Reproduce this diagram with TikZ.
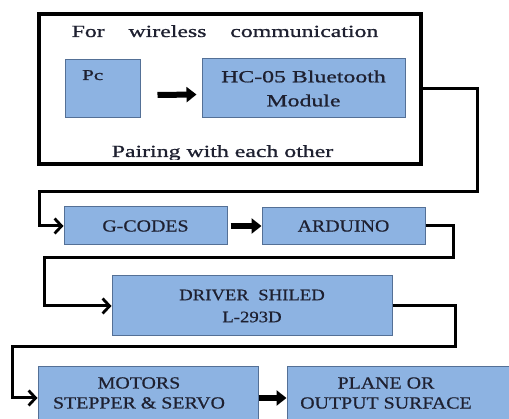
\documentclass[tikz,border=0pt]{standalone}
\usepackage{fontspec}
\setmainfont{Liberation Serif}
\newfontfamily\widefont{Liberation Serif}[FakeStretch=1.4, FakeBold=0.9]
\newfontfamily\blockfont{Liberation Serif}[FakeStretch=1.17, FakeBold=0.6]
\usetikzlibrary{arrows.meta, calc}
\definecolor{blockfill}{RGB}{141,179,226}
\definecolor{blockline}{RGB}{84,112,150}
\definecolor{blocktext}{RGB}{30,32,48}
\tikzset{
    my-block/.style={
        draw=blockline, fill=blockfill, line width=1pt, inner sep=0pt,
        text=blocktext, align=center, font=\blockfont\fontsize{17}{20}\selectfont
    },
    my-caption/.style={
        inner sep=0pt, text=blocktext, align=center, font=\widefont\fontsize{17}{24}\selectfont
    },
    my-label/.style={
        inner sep=0pt, text=blocktext, align=center, font=\blockfont\fontsize{17}{20}\selectfont
    },
    my-frame/.style={
        draw=black, line width=4pt, inner sep=0pt
    },
    my-wire/.style={
        draw=black, line width=3pt, line join=miter,
        -{Straight Barb[length=7pt, width=15pt, line width=2.8pt]}
    },
    my-arrow/.style={
        draw=black, line width=6pt, -{Triangle[length=10pt, width=15pt]}
    },
}

\begin{document}
\begin{tikzpicture}[x=1pt, y=-1pt]
        \useasboundingbox (0,0) rectangle (509,419);

        % WIRELESS FRAME
        \node[my-frame, minimum width=381.5, minimum height=150] (FRAME) at (229.75, 89) {};
        \node[my-caption, anchor=base] (WIRELESS) at (225, 37) {For~~~~wireless~~~~communication};

        % PC AND BLUETOOTH MODULE
        \node[my-block, minimum width=75, minimum height=58] (PC) at (102.5, 89) {};
        \node[my-caption, anchor=base west, font=\widefont\fontsize{15}{20}\selectfont] (PCTEXT) at (82, 80) {Pc};
        \node[my-block, my-caption, draw=blockline, fill=blockfill, line width=1pt,
              minimum width=203, minimum height=59] (HC) at (303.5, 88.5) {HC-05 Bluetooth\\Module};
        \draw[my-arrow] ($(PC.east) + (17, 6)$) -- ($(HC.west) + (-5, 6)$);

        % PAIRING TEXT, CUT BY THE FRAME
        \begin{scope}
            \clip (FRAME.north west) rectangle ($(FRAME.south east) + (0, -6)$);
            \node[my-caption, anchor=base] (PAIRING) at (222.5, 157) {Pairing with each other};
        \end{scope}

        % G-CODES AND ARDUINO
        \node[my-block, minimum width=163, minimum height=38] (GCODES)  at (145.5, 226) {G-CODES};
        \node[my-block, minimum width=163, minimum height=37] (ARDUINO) at (343.5, 226) {ARDUINO};
        \draw[my-arrow, shorten <=3pt] (GCODES) -- (ARDUINO);

        % DRIVER SHIELD
        \node[my-block, minimum width=280, minimum height=60,
              font=\blockfont\fontsize{16}{22}\selectfont] (DRIVER) at (252, 306) {DRIVER~~SHILED\\L-293D};

        % MOTORS AND OUTPUT
        \node[my-block, minimum width=220, minimum height=62] (MOTORS) at (148, 398) {};
        \node[my-block, minimum width=230, minimum height=62] (PLANE)  at (402, 398) {};
        \node[my-label] (MOTORSTEXT) at (139, 393) {MOTORS\\STEPPER \& SERVO};
        \node[my-label] (PLANETEXT)  at (386, 393) {PLANE OR\\OUTPUT SURFACE};
        \draw[my-arrow] (MOTORS) -- (PLANE);

        % CONNECTOR POINTS
        \coordinate[] (W1A) at ($(FRAME.east) + (55, 0)$);
        \coordinate[] (W1B) at ($(GCODES.west) + (-24, -34)$);
        \coordinate[] (W2A) at ($(ARDUINO.east) + (28, 0)$);
        \coordinate[] (W2B) at ($(DRIVER.west) + (-67, -48)$);
        \coordinate[] (W3A) at ($(DRIVER.east) + (63, 0)$);
        \coordinate[] (W3B) at ($(MOTORS.west) + (-25, -51)$);

        % WIRES BETWEEN STAGES
        \draw[my-wire] (FRAME.east)   -- (W1A) |- (W1B) |- (GCODES.west);
        \draw[my-wire] (ARDUINO.east) -- (W2A) |- (W2B) |- (DRIVER.west);
        \draw[my-wire] (DRIVER.east)  -- (W3A) |- (W3B) |- (MOTORS.west);

    \end{tikzpicture}
\end{document}
